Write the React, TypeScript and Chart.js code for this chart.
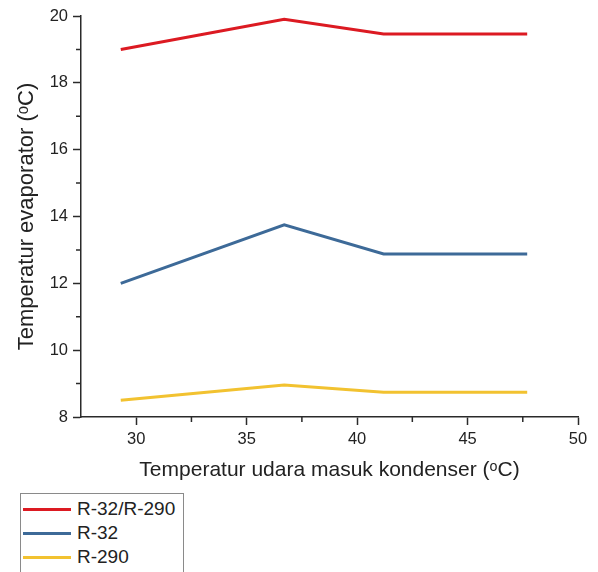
import React, { useEffect, useRef } from 'react';
import { Chart, registerables } from 'chart.js';

Chart.register(...registerables);

// ---- data ----
const xValues = [29.3, 36.7, 41.2, 47.7];
const seriesR32R290 = [19.0, 19.9, 19.46, 19.46];
const seriesR32 = [12.0, 13.75, 12.88, 12.88];
const seriesR290 = [8.5, 8.96, 8.74, 8.74];
const seriesLabels = ['R-32/R-290', 'R-32', 'R-290'];
const seriesColors = ['#dc1a22', '#3d6a98', '#f2c230'];
const xMajorTicks = [30, 35, 40, 45, 50];
const xMinorTicks = [32.5, 37.5, 42.5, 47.5];
const yMajorTicks = [8, 10, 12, 14, 16, 18, 20];
const yMinorTicks = [9, 11, 13, 15, 17, 19];
const xTitle = 'Temperatur udara masuk kondenser (ᵒC)';
const yTitle = 'Temperatur evaporator (ᵒC)';

const FONT = '"Liberation Sans", Arial, sans-serif';
const AXIS_COLOR = '#2a2a2a';
const TEXT_COLOR = '#222222';

const minorTickPlugin = {
  id: 'minorTicks',
  afterDraw(chart: any) {
    const ctx = chart.ctx;
    const xs = chart.scales.x;
    const ys = chart.scales.y;
    ctx.save();
    ctx.strokeStyle = AXIS_COLOR;
    ctx.lineWidth = 1.5;
    ctx.beginPath();
    xMinorTicks.forEach((v) => {
      const px = xs.getPixelForValue(v);
      ctx.moveTo(px, xs.top);
      ctx.lineTo(px, xs.top + 5);
    });
    yMinorTicks.forEach((v) => {
      const py = ys.getPixelForValue(v);
      ctx.moveTo(ys.right, py);
      ctx.lineTo(ys.right - 5, py);
    });
    ctx.stroke();
    ctx.restore();
  },
};

export default function App() {
  const canvasRef = useRef<HTMLCanvasElement | null>(null);

  useEffect(() => {
    if (!canvasRef.current) return;
    const allSeries = [seriesR32R290, seriesR32, seriesR290];
    const chart = new Chart(canvasRef.current, {
      type: 'line',
      data: {
        datasets: allSeries.map((s, i) => ({
          label: seriesLabels[i],
          data: s.map((y, j) => ({ x: xValues[j], y })),
          borderColor: seriesColors[i],
          backgroundColor: seriesColors[i],
          borderWidth: 3,
          pointRadius: 0,
          tension: 0,
          fill: false,
        })),
      },
      options: {
        animation: false,
        responsive: false,
        maintainAspectRatio: false,
        layout: { padding: { left: 0, top: 16, right: 20, bottom: 0 } },
        plugins: {
          legend: { display: false },
          tooltip: { enabled: false },
        },
        scales: {
          x: {
            type: 'linear',
            min: 27.5,
            max: 50,
            afterBuildTicks: (s: any) => {
              s.ticks = xMajorTicks.map((value) => ({ value }));
            },
            afterFit: (s: any) => {
              s.height = 155;
            },
            grid: {
              display: true,
              drawOnChartArea: false,
              drawTicks: true,
              tickLength: 8,
              tickColor: AXIS_COLOR,
              tickWidth: 1.5,
            },
            border: { display: true, color: AXIS_COLOR, width: 1.5 },
            ticks: {
              color: TEXT_COLOR,
              font: { family: FONT, size: 16.5 },
              padding: 5,
              maxRotation: 0,
              callback: (v: any) => String(v),
            },
            title: {
              display: true,
              text: xTitle,
              color: TEXT_COLOR,
              font: { family: FONT, size: 21 },
              padding: { top: 0, bottom: 89 },
            },
          },
          y: {
            type: 'linear',
            min: 8,
            max: 20,
            afterBuildTicks: (s: any) => {
              s.ticks = yMajorTicks.map((value) => ({ value }));
            },
            afterFit: (s: any) => {
              s.width = 81;
            },
            grid: {
              display: true,
              drawOnChartArea: false,
              drawTicks: true,
              tickLength: 8,
              tickColor: AXIS_COLOR,
              tickWidth: 1.5,
            },
            border: { display: true, color: AXIS_COLOR, width: 1.5 },
            ticks: {
              color: TEXT_COLOR,
              font: { family: FONT, size: 16.5 },
              padding: 5,
              callback: (v: any) => String(v),
            },
            title: {
              display: true,
              text: yTitle,
              color: TEXT_COLOR,
              font: { family: FONT, size: 22 },
              padding: { top: 14, bottom: 0 },
            },
          },
        },
      },
      plugins: [minorTickPlugin],
    });
    return () => chart.destroy();
  }, []);

  return (
    <div
      style={{
        position: 'fixed',
        left: 0,
        top: 0,
        width: 598,
        height: 572,
        overflow: 'hidden',
        background: '#ffffff',
      }}
    >
      <canvas ref={canvasRef} width={598} height={572} style={{ display: 'block' }} />
      <div
        style={{
          position: 'absolute',
          left: 20,
          top: 493,
          width: 162,
          height: 100,
          border: '1px solid #8a8a8a',
          background: '#ffffff',
          fontFamily: FONT,
          fontSize: 19,
          color: TEXT_COLOR,
        }}
      >
        {seriesLabels.map((label, i) => (
          <div
            key={label}
            style={{
              position: 'absolute',
              left: 0,
              top: 3 + i * 24,
              height: 24,
              display: 'flex',
              alignItems: 'center',
              whiteSpace: 'nowrap',
            }}
          >
            <span
              style={{
                display: 'inline-block',
                marginLeft: 2,
                width: 48,
                height: 3,
                background: seriesColors[i],
              }}
            />
            <span style={{ marginLeft: 6, lineHeight: '24px' }}>{label}</span>
          </div>
        ))}
      </div>
    </div>
  );
}
